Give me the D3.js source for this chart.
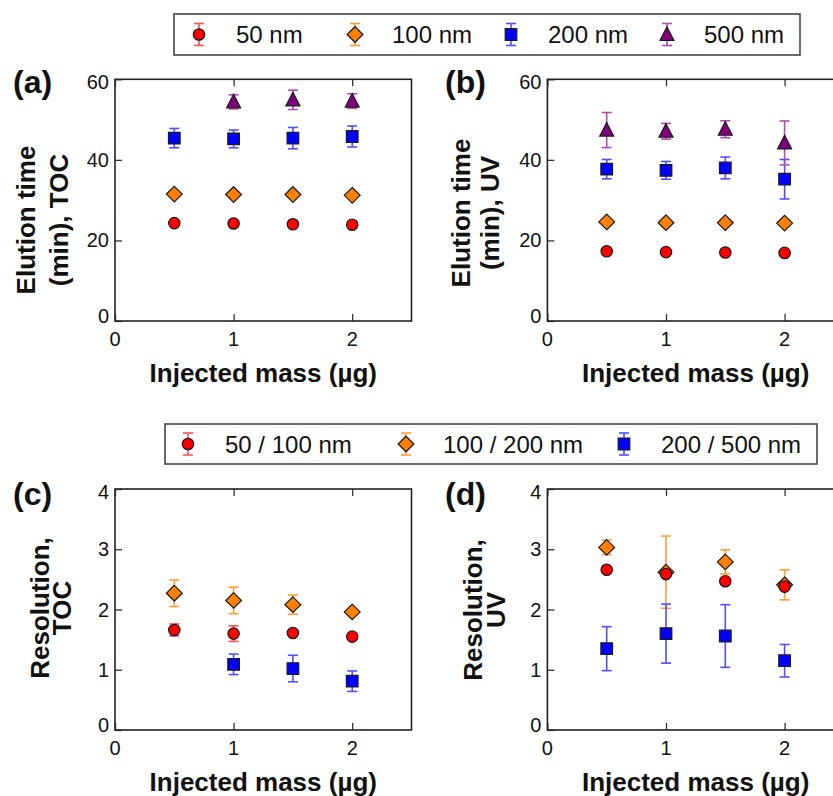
<!DOCTYPE html>
<html>
<head>
<meta charset="utf-8">
<script src="https://cdn.jsdelivr.net/npm/d3@7"></script>
<style>
  body { margin: 0; background: #fff; }
  text { font-family: "Liberation Sans", Arial, sans-serif; fill: #111; }
</style>
</head>
<body>
<svg id="chart" width="833" height="796"></svg>
<script>
// ---- data ----
const massValues = [0.5, 1, 1.5, 2];
const sizeNames = ["50 nm", "100 nm", "200 nm", "500 nm"];
const pairNames = ["50 / 100 nm", "100 / 200 nm", "200 / 500 nm"];

// (a) elution time, TOC detector (min)
const tocTime50 = [24.3, 24.2, 24.0, 23.9];
const tocTime50Err = [0.4, 0.4, 0.4, 0.4];
const tocTime100 = [31.5, 31.4, 31.4, 31.2];
const tocTime100Err = [0.4, 0.4, 0.4, 0.4];
const tocTime200 = [45.4, 45.2, 45.4, 45.8];
const tocTime200Err = [2.4, 2.2, 2.65, 2.6];
const tocTime500 = [null, 54.4, 54.9, 54.6];
const tocTime500Err = [null, 1.75, 2.4, 1.8];

// (b) elution time, UV detector (min)
const uvTime50 = [17.3, 17.1, 17.0, 16.9];
const uvTime50Err = [0.4, 0.4, 0.4, 0.4];
const uvTime100 = [24.6, 24.4, 24.4, 24.3];
const uvTime100Err = [0.4, 0.4, 0.4, 0.4];
const uvTime200 = [37.7, 37.4, 38.0, 35.2];
const uvTime200Err = [2.4, 2.2, 2.7, 4.9];
const uvTime500 = [47.4, 47.1, 47.6, 44.2];
const uvTime500Err = [4.35, 1.95, 2.1, 5.45];

// (c) resolution, TOC
const tocRes50 = [1.66, 1.60, 1.61, 1.55];
const tocRes50Err = [0.1, 0.13, 0.04, 0.04];
const tocRes100 = [2.27, 2.15, 2.08, 1.96];
const tocRes100Err = [0.22, 0.22, 0.16, 0.04];
const tocRes200 = [null, 1.09, 1.02, 0.81];
const tocRes200Err = [null, 0.17, 0.22, 0.17];

// (d) resolution, UV
const uvRes50 = [2.66, 2.59, 2.47, 2.38];
const uvRes50Err = [0.05, 0.05, 0.04, 0.04];
const uvRes100 = [3.03, 2.62, 2.79, 2.41];
const uvRes100Err = [0.12, 0.6, 0.2, 0.25];
const uvRes200 = [1.35, 1.60, 1.56, 1.15];
const uvRes200Err = [0.365, 0.49, 0.52, 0.27];

const timeTicks = [0, 20, 40, 60];
const resTicks = [0, 1, 2, 3, 4];
const massTicks = [0, 1, 2];

// ---- styles ----
const fills = ["#ff0000", "#ff8000", "#0000ff", "#800080"];
const barColors = ["#ff4f4f", "#ff9c3a", "#4f4fff", "#b04db0"];
const shapes = ["circle", "diamond", "square", "triangle"];

const svg = d3.select("#chart");

function markerPath(shape) {
  if (shape === "circle") return d3.arc()({innerRadius: 0, outerRadius: 5.7, startAngle: 0, endAngle: 2 * Math.PI});
  if (shape === "diamond") return "M0,-7.8L7.9,0L0,7.8L-7.9,0Z";
  if (shape === "square") return "M-5.8,-5.8H5.8V5.8H-5.8Z";
  return "M0,-7.6L7,6L-7,6Z";
}

function errorBar(g, x, y0, y1, color) {
  g.append("line").attr("x1", x).attr("x2", x).attr("y1", y0).attr("y2", y1)
    .attr("stroke", color).attr("stroke-width", 1.6);
  [y0, y1].forEach(yy => g.append("line")
    .attr("x1", x - 5).attr("x2", x + 5).attr("y1", yy).attr("y2", yy)
    .attr("stroke", color).attr("stroke-width", 1.6));
}

const panels = [
  {tag: "(a)", left: 115, top: 79.3, bottom: 321, yMax: 60, yTicks: timeTicks,
   vals: [tocTime50, tocTime100, tocTime200, tocTime500],
   errs: [tocTime50Err, tocTime100Err, tocTime200Err, tocTime500Err],
   yLabel: ["Elution time", "(min), TOC"], labX: [35, 68], labY: 220, tagX: 13, tagY: 93},
  {tag: "(b)", left: 547.4, top: 79.3, bottom: 321, yMax: 60, yTicks: timeTicks,
   vals: [uvTime50, uvTime100, uvTime200, uvTime500],
   errs: [uvTime50Err, uvTime100Err, uvTime200Err, uvTime500Err],
   yLabel: ["Elution time", "(min), UV"], labX: [470, 499], labY: 213, tagX: 445, tagY: 93},
  {tag: "(c)", left: 115, top: 489, bottom: 730, yMax: 4, yTicks: resTicks,
   vals: [tocRes50, tocRes100, tocRes200],
   errs: [tocRes50Err, tocRes100Err, tocRes200Err],
   yLabel: ["Resolution,", "TOC"], labX: [49, 71], labY: 608, tagX: 13, tagY: 505},
  {tag: "(d)", left: 547.4, top: 489, bottom: 730, yMax: 4, yTicks: resTicks,
   vals: [uvRes50, uvRes100, uvRes200],
   errs: [uvRes50Err, uvRes100Err, uvRes200Err],
   yLabel: ["Resolution,", "UV"], labX: [482, 505], labY: 610, tagX: 445, tagY: 505}
];

panels.forEach(p => {
  const w = 296.5;
  const x = d3.scaleLinear().domain([0, 2.5]).range([p.left, p.left + w]);
  const y = d3.scaleLinear().domain([0, p.yMax]).range([p.bottom, p.top]);
  const g = svg.append("g");

  // inward ticks: bottom, top, left
  g.append("g").attr("transform", `translate(0,${p.bottom})`)
    .call(d3.axisTop(x).tickValues(massTicks).tickSize(7).tickFormat(""))
    .call(a => a.select(".domain").remove())
    .selectAll("line").attr("stroke", "#333").attr("stroke-width", 1.3);
  g.append("g").attr("transform", `translate(0,${p.top})`)
    .call(d3.axisBottom(x).tickValues(massTicks).tickSize(7).tickFormat(""))
    .call(a => a.select(".domain").remove())
    .selectAll("line").attr("stroke", "#333").attr("stroke-width", 1.3);
  g.append("g").attr("transform", `translate(${p.left},0)`)
    .call(d3.axisRight(y).tickValues(p.yTicks).tickSize(7).tickFormat(""))
    .call(a => a.select(".domain").remove())
    .selectAll("line").attr("stroke", "#333").attr("stroke-width", 1.3);

  g.append("rect").attr("x", p.left).attr("y", p.top)
    .attr("width", w).attr("height", p.bottom - p.top)
    .attr("fill", "none").attr("stroke", "#222").attr("stroke-width", 1.6);

  // tick labels
  g.selectAll(".xl").data(massTicks).join("text")
    .attr("x", d => x(d)).attr("y", p.bottom + 25)
    .attr("text-anchor", "middle").attr("font-size", 20).text(d => d);
  g.selectAll(".yl").data(p.yTicks).join("text")
    .attr("x", p.left - 6).attr("y", d => y(d) + 7 - (d === 0 ? 5 : 0) + (d === p.yMax ? 3 : 0))
    .attr("text-anchor", "end").attr("font-size", 20).text(d => d);

  // axis titles
  g.append("text").attr("x", x(1.25)).attr("y", p.bottom + 61)
    .attr("text-anchor", "middle").attr("font-size", 26).attr("font-weight", "bold")
    .text("Injected mass (\u00b5g)");
  p.yLabel.forEach((t, i) => {
    g.append("text").attr("transform", `translate(${p.labX[i]},${p.labY}) rotate(-90)`)
      .attr("text-anchor", "middle").attr("font-size", 26).attr("font-weight", "bold").text(t);
  });
  g.append("text").attr("x", p.tagX).attr("y", p.tagY)
    .attr("font-size", 32).attr("font-weight", "bold").text(p.tag);

  // error bars first, then markers (last series underneath first)
  p.vals.forEach((vals, s) => {
    vals.forEach((v, i) => {
      if (v == null) return;
      const e = p.errs[s][i];
      errorBar(g, x(massValues[i]), y(v - e), y(v + e), barColors[s]);
    });
  });
  p.vals.slice().map((v, s) => s).reverse().forEach(s => {
    p.vals[s].forEach((v, i) => {
      if (v == null) return;
      g.append("path").attr("d", markerPath(shapes[s]))
        .attr("transform", `translate(${x(massValues[i])},${y(v)})`)
        .attr("fill", fills[s]).attr("stroke", "#1a1a1a").attr("stroke-width", 1.2);
    });
  });
});

// ---- legends ----
function legend(names, bx, by, bw, bh, firstX, step) {
  const g = svg.append("g");
  g.append("rect").attr("x", bx).attr("y", by).attr("width", bw).attr("height", bh)
    .attr("fill", "#fff").attr("stroke", "#444").attr("stroke-width", 1.6);
  const cy = by + bh / 2;
  names.forEach((n, s) => {
    const mx = firstX + s * step;
    errorBar(g, mx, cy - 11, cy + 11, barColors[s]);
    g.append("path").attr("d", markerPath(shapes[s]))
      .attr("transform", `translate(${mx},${cy})`)
      .attr("fill", fills[s]).attr("stroke", "#1a1a1a").attr("stroke-width", 1.2);
    g.append("text").attr("x", mx + 37).attr("y", cy + 8.5)
      .attr("font-size", 24).text(n);
  });
}
legend(sizeNames, 174, 14, 626, 41, 199, 156);
legend(pairNames, 165, 424, 652, 40, 188, 218);
</script>
</body>
</html>
